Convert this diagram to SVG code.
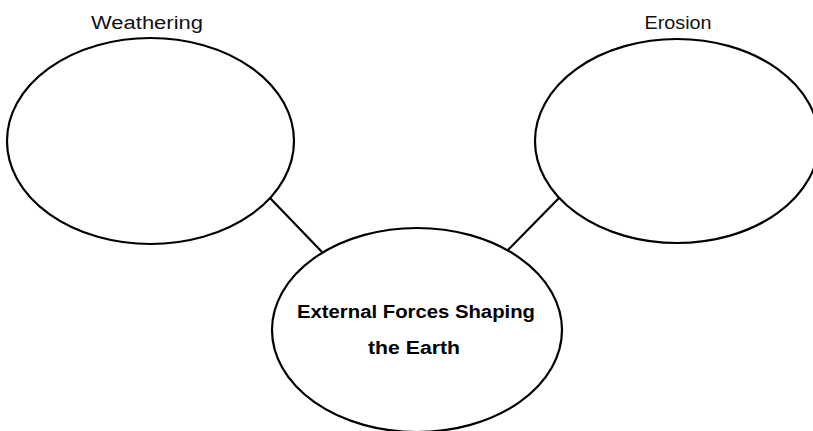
<svg xmlns="http://www.w3.org/2000/svg" width="813" height="431" viewBox="0 0 813 431">
<style>
.node{fill:#fff;stroke:#000;stroke-width:2.2}
.edge{stroke:#000;stroke-width:2.2;fill:none}
.lbl{font-family:"Liberation Sans",Arial,sans-serif;font-size:18px;fill:#111;text-anchor:middle}
.ctr{font-family:"Liberation Sans",Arial,sans-serif;font-size:18px;font-weight:bold;fill:#000;text-anchor:middle}
</style>
<rect width="813" height="431" fill="#fff"/>
<g id="connectors">
<line class="edge" x1="270" y1="198" x2="322" y2="252"/>
<line class="edge" x1="559" y1="198" x2="507" y2="251"/>
</g>
<g id="weathering">
<ellipse class="node" cx="150.5" cy="141" rx="143.5" ry="103"/>
<text class="lbl" x="147" y="29" textLength="112" lengthAdjust="spacingAndGlyphs">Weathering</text>
</g>
<g id="erosion">
<ellipse class="node" cx="677" cy="141" rx="142" ry="102"/>
<text class="lbl" x="678" y="29" textLength="67" lengthAdjust="spacingAndGlyphs">Erosion</text>
</g>
<g id="center">
<ellipse class="node" cx="417" cy="330" rx="145" ry="102"/>
<text class="ctr" x="416" y="318" textLength="238" lengthAdjust="spacingAndGlyphs">External Forces Shaping</text>
<text class="ctr" x="414" y="354" textLength="92" lengthAdjust="spacingAndGlyphs">the Earth</text>
</g>
</svg>
